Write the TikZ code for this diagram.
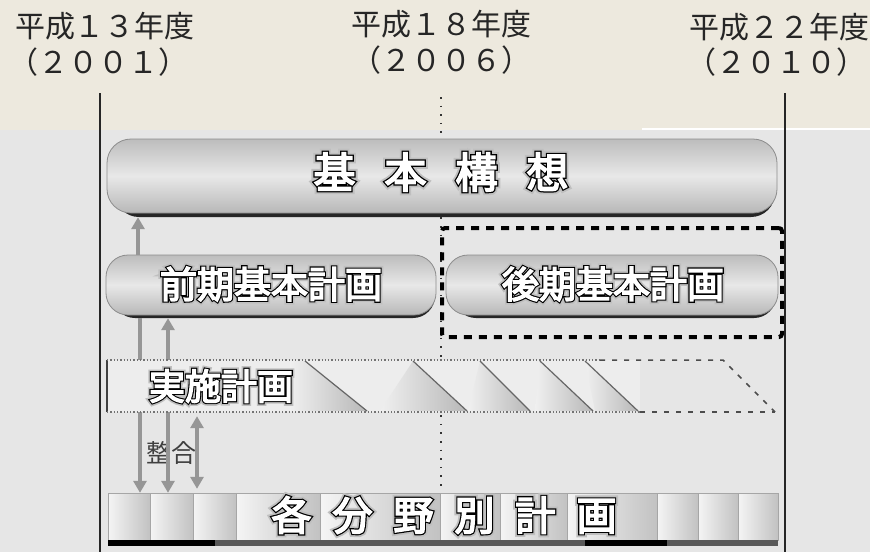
\documentclass[tikz,border=0pt]{standalone}
\usepackage{fontspec}
\setmainfont{Noto Sans CJK JP}
\newfontfamily\jp{Noto Sans CJK JP}
\newfontfamily\jpw[FakeBold=4]{Noto Sans CJK JP}
\newfontfamily\jpo[FakeBold=10]{Noto Sans CJK JP}
\newfontfamily\jph[FakeBold=19]{Noto Sans CJK JP}
\usetikzlibrary{arrows.meta}
\definecolor{bgtop}{RGB}{237,233,222}
\definecolor{bgbot}{RGB}{230,230,230}
\definecolor{arr}{RGB}{150,150,150}
\newcommand\otext[4]{%
  \node[font=\jph\fontsize{#3}{#3}\selectfont,text=black!25,inner sep=0pt] (#1h) at (#2) {#4};
  \node[font=\jpo\fontsize{#3}{#3}\selectfont,text=black,inner sep=0pt] (#1o) at (#2) {#4};
  \node[font=\jpw\fontsize{#3}{#3}\selectfont,text=white,inner sep=0pt] (#1) at (#2) {#4};}
\begin{document}
\begin{tikzpicture}[x=1pt,y=-1pt,
  hdr/.style={font=\jp\fontsize{30}{30}\selectfont,text=black!85,inner sep=0pt},
  bar/.style={rounded corners=#1, top color=black!26, bottom color=black!28, middle color=black!9, draw=black!45, line width=0.8pt, inner sep=0pt},
  barshadow/.style={rounded corners=#1, fill=black!85, inner sep=0pt},
  arrowline/.style={draw=arr, line width=4pt, -{Triangle[width=13pt,length=12pt]}},
  dblarrow/.style={draw=arr, line width=4pt, {Triangle[width=13pt,length=12pt]}-{Triangle[width=13pt,length=12pt]}},
  tri/.style={left color=black!6, right color=black!28},
  diag/.style={draw=black!60, line width=1.2pt},
  dashln/.style={draw=black!70, line width=1.5pt, dash pattern=on 5pt off 7pt},
  cell/.style={left color=black!4, right color=black!24, draw=black!35, line width=0.6pt}]
\useasboundingbox (0,0) rectangle (870,552);
\fill[bgtop] (0,0) rectangle (870,130);
\fill[bgbot] (0,130) rectangle (870,552);
\draw[white,line width=1.5pt] (642,129) -- (870,129);
% headers
\node[hdr] (h1a) at (105,26) {平成１３年度};
\node[hdr] (h1b) at (99,62) {（２００１）};
\node[hdr] (h2a) at (441,24) {平成１８年度};
\node[hdr] (h2b) at (441,60) {（２００６）};
\node[hdr] (h3a) at (779,27) {平成２２年度};
\node[hdr] (h3b) at (776,62) {（２０１０）};
% time lines
\coordinate (L0) at (100,93); \coordinate (L1) at (100,552);
\coordinate (R0) at (785,93); \coordinate (R1) at (785,552);
\coordinate (M0) at (441,97); \coordinate (M1) at (441,492);
\draw[black!85,line width=1.6pt] (L0) -- (L1);
\draw[black!85,line width=1.6pt] (R0) -- (R1);
\draw[black!80,line width=1.6pt,dash pattern=on 1.6pt off 7pt] (M0) -- (M1);
% kihon koso
\node[barshadow=24pt, minimum width=660pt, minimum height=74pt] (kihonS) at (445,180) {};
\node[bar=24pt, minimum width=670pt, minimum height=74pt] (kihon) at (442,176) {};
\otext{kihonT}{441,172}{42pt}{基\kern29pt 本\kern29pt 構\kern29pt 想}
% zenki
\node[barshadow=22pt, minimum width=322pt, minimum height=60pt] (zenkiS) at (274,288) {};
\node[bar=22pt, minimum width=330pt, minimum height=60pt] (zenki) at (271,285) {};
\otext{zenkiT}{271,284}{37pt}{前期基本計画}
% kouki
\node[draw=black, line width=4pt, dash pattern=on 8pt off 7pt, rounded corners=3pt, minimum width=340pt, minimum height=109pt, inner sep=0pt] (koukibox) at (612,282.5) {};
\node[barshadow=22pt, minimum width=322pt, minimum height=60pt] (koukiS) at (615,288) {};
\node[bar=22pt, minimum width=332pt, minimum height=60pt] (kouki) at (612,285) {};
\otext{koukiT}{613,284}{37pt}{後期基本計画}
% anchor nodes for the lower bands
\node[minimum width=670pt, minimum height=47pt, inner sep=0pt] (bunya) at (443,516.5) {};
\node[minimum width=668pt, minimum height=52pt, inner sep=0pt] (jisshi) at (441,386) {};
% seigo label
\node[font=\jp\fontsize{25}{25}\selectfont, text=black!75, inner sep=0pt] (seigo) at (171,453) {整合};
% arrows
\coordinate (xa) at (138,0); \coordinate (xa2) at (140,0);
\coordinate (xb) at (168,0); \coordinate (xc) at (197,0);
\draw[arrowline] (zenki.north -| xa) -- (kihonS.south -| xa);
\draw[arrowline] (zenkiS.south -| xa2) -- (bunya.north -| xa2);
\draw[arrowline] (jisshi.north -| xb) -- (zenkiS.south -| xb);
\draw[arrowline] (jisshi.south -| xb) -- (bunya.north -| xb);
\draw[dblarrow, shorten <=4pt, shorten >=4pt] (jisshi.south -| xc) -- (bunya.north -| xc);
% jisshi band
\fill[black!7] (107,360) rectangle (640,412);
\shade[tri] (290,361) -- (305,361) -- (367,411) -- (290,411) -- cycle;
\shade[tri] (413,361) -- (467,411) -- (380,411) -- cycle;
\shade[tri] (480,361) -- (530,411) -- (468,411) -- cycle;
\shade[tri] (540,361) -- (593,411) -- (535,411) -- cycle;
\shade[tri] (585,361) -- (638,411) -- (595,411) -- cycle;
\draw[diag] (305,361) -- (367,411);
\draw[diag] (413,361) -- (467,411);
\draw[diag] (480,361) -- (530,411);
\draw[diag] (540,361) -- (593,411);
\draw[diag] (585,361) -- (638,411);
\draw[black!75, line width=1.2pt] (107,360) -- (107,412);
\draw[black!55, line width=1.3pt, dotted] (107,360) -- (600,360);
\draw[black!55, line width=1.3pt, dotted] (107,412) -- (640,412);
\draw[dashln] (600,360) -- (723,360) -- (775,412);
\draw[dashln] (640,412) -- (775,412);
\otext{jisshiT}{221,386}{36pt}{実施計画}
% bunya cells
\fill[black!8] (108,493) rectangle (778,540);
\foreach \a/\b in {108/150,150/193,193/236,236/320,320/440,440/500,500/567,567/657,657/698,698/738,738/778}{
  \draw[cell] (\a,493) rectangle (\b,540);
}
\fill[black!65] (108,540) rectangle (778,546);
\fill[black] (108,540) rectangle (215,546);
\fill[black] (585,540) rectangle (667,546);
\otext{bunyaT}{444,515}{40pt}{各\kern21pt 分\kern21pt 野\kern21pt 別\kern21pt 計\kern21pt 画}
\end{tikzpicture}
\end{document}
